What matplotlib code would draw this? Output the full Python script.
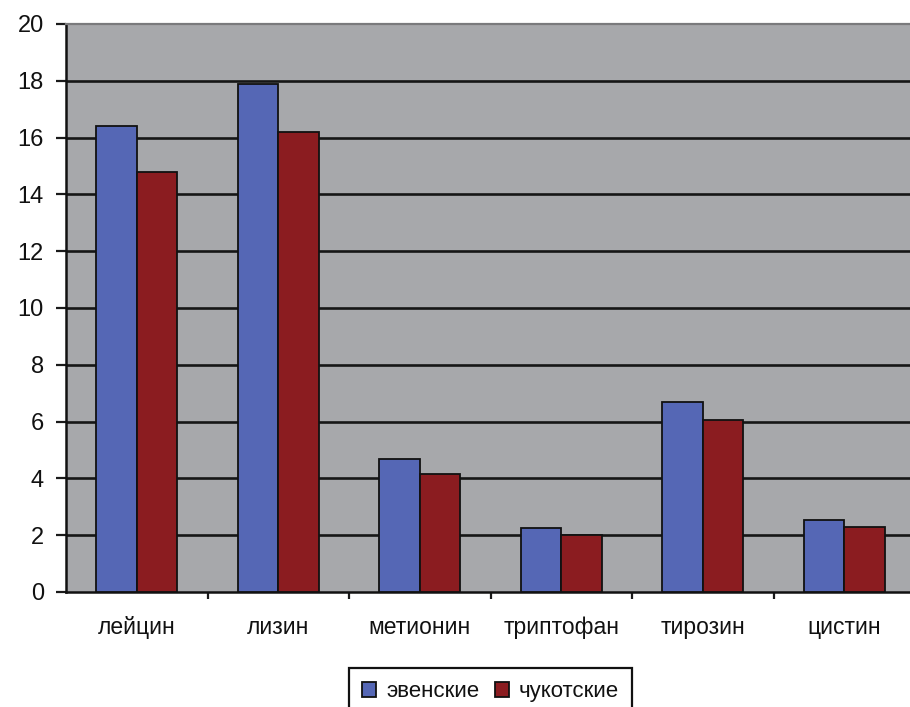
import matplotlib
matplotlib.use("Agg")
import matplotlib.pyplot as plt
import numpy as np

# Amino acid content by group
categories = ["лейцин", "лизин", "метионин", "триптофан", "тирозин", "цистин"]
series_names = ["эвенские", "чукотские"]
evenki = [16.4, 17.9, 4.7, 2.25, 6.7, 2.55]
chukchi = [14.8, 16.2, 4.15, 2.0, 6.05, 2.28]
y_ticks = [0, 2, 4, 6, 8, 10, 12, 14, 16, 18, 20]

plt.rcParams["font.family"] = ["Liberation Sans", "DejaVu Sans"]

W, H = 910, 707
fig = plt.figure(figsize=(W / 100, H / 100), dpi=100)
fig.patch.set_facecolor("white")

# plot area runs slightly past the right edge of the canvas
left_px, right_px, top_px, bottom_px = 66, 915, 24, 592
ax = fig.add_axes([left_px / W, 1 - bottom_px / H,
                   (right_px - left_px) / W, (bottom_px - top_px) / H])
ax.set_facecolor("#a7a8ab")

x = np.arange(len(categories))
bw = 0.2857
blue = "#5567b5"
red = "#8b1c20"
ax.bar(x - bw / 2, evenki, width=bw, color=blue, edgecolor="#111111",
       linewidth=1.3, zorder=3, label=series_names[0])
ax.bar(x + bw / 2, chukchi, width=bw, color=red, edgecolor="#111111",
       linewidth=1.3, zorder=3, label=series_names[1])

ax.set_xlim(-0.5, len(categories) - 0.5)
ax.set_ylim(0, 20)

# horizontal gridlines between the axis and the top border
for t in y_ticks[1:-1]:
    ax.axhline(t, color="#161616", linewidth=1.9, zorder=1)

ax.set_yticks(y_ticks)
ax.set_yticklabels([str(t) for t in y_ticks])
ax.set_xticks(x)
ax.set_xticklabels(categories)
ax.tick_params(axis="x", length=0, pad=17.5, labelsize=16.5, labelcolor="#111111")
ax.tick_params(axis="y", length=7, width=1.6, color="#1a1a1a", pad=9,
               labelsize=17, labelcolor="#111111")

# category separator ticks below the axis
ax.set_xticks(np.arange(0.5, len(categories) - 0.5 + 0.01, 1.0), minor=True)
ax.tick_params(axis="x", which="minor", length=5, width=1.6, color="#1a1a1a",
               direction="out")

ax.spines["left"].set_color("#111111")
ax.spines["left"].set_linewidth(1.8)
ax.spines["bottom"].set_color("#111111")
ax.spines["bottom"].set_linewidth(1.8)
ax.spines["top"].set_color("#7a7a7c")
ax.spines["top"].set_linewidth(1.6)
ax.spines["right"].set_visible(False)

leg = fig.legend(loc="upper center",
                 bbox_to_anchor=((left_px + right_px) / 2 / W, 1 - 668 / H),
                 ncol=2, frameon=True, fancybox=False, framealpha=1.0,
                 fontsize=16, handlelength=0.62, handleheight=0.62,
                 handletextpad=0.45, columnspacing=0.7, borderpad=0.6,
                 borderaxespad=0.0)
leg.get_frame().set_edgecolor("#111111")
leg.get_frame().set_linewidth(1.6)
for txt in leg.get_texts():
    txt.set_color("#111111")

fig.savefig("out.png", dpi=100, facecolor="white")
